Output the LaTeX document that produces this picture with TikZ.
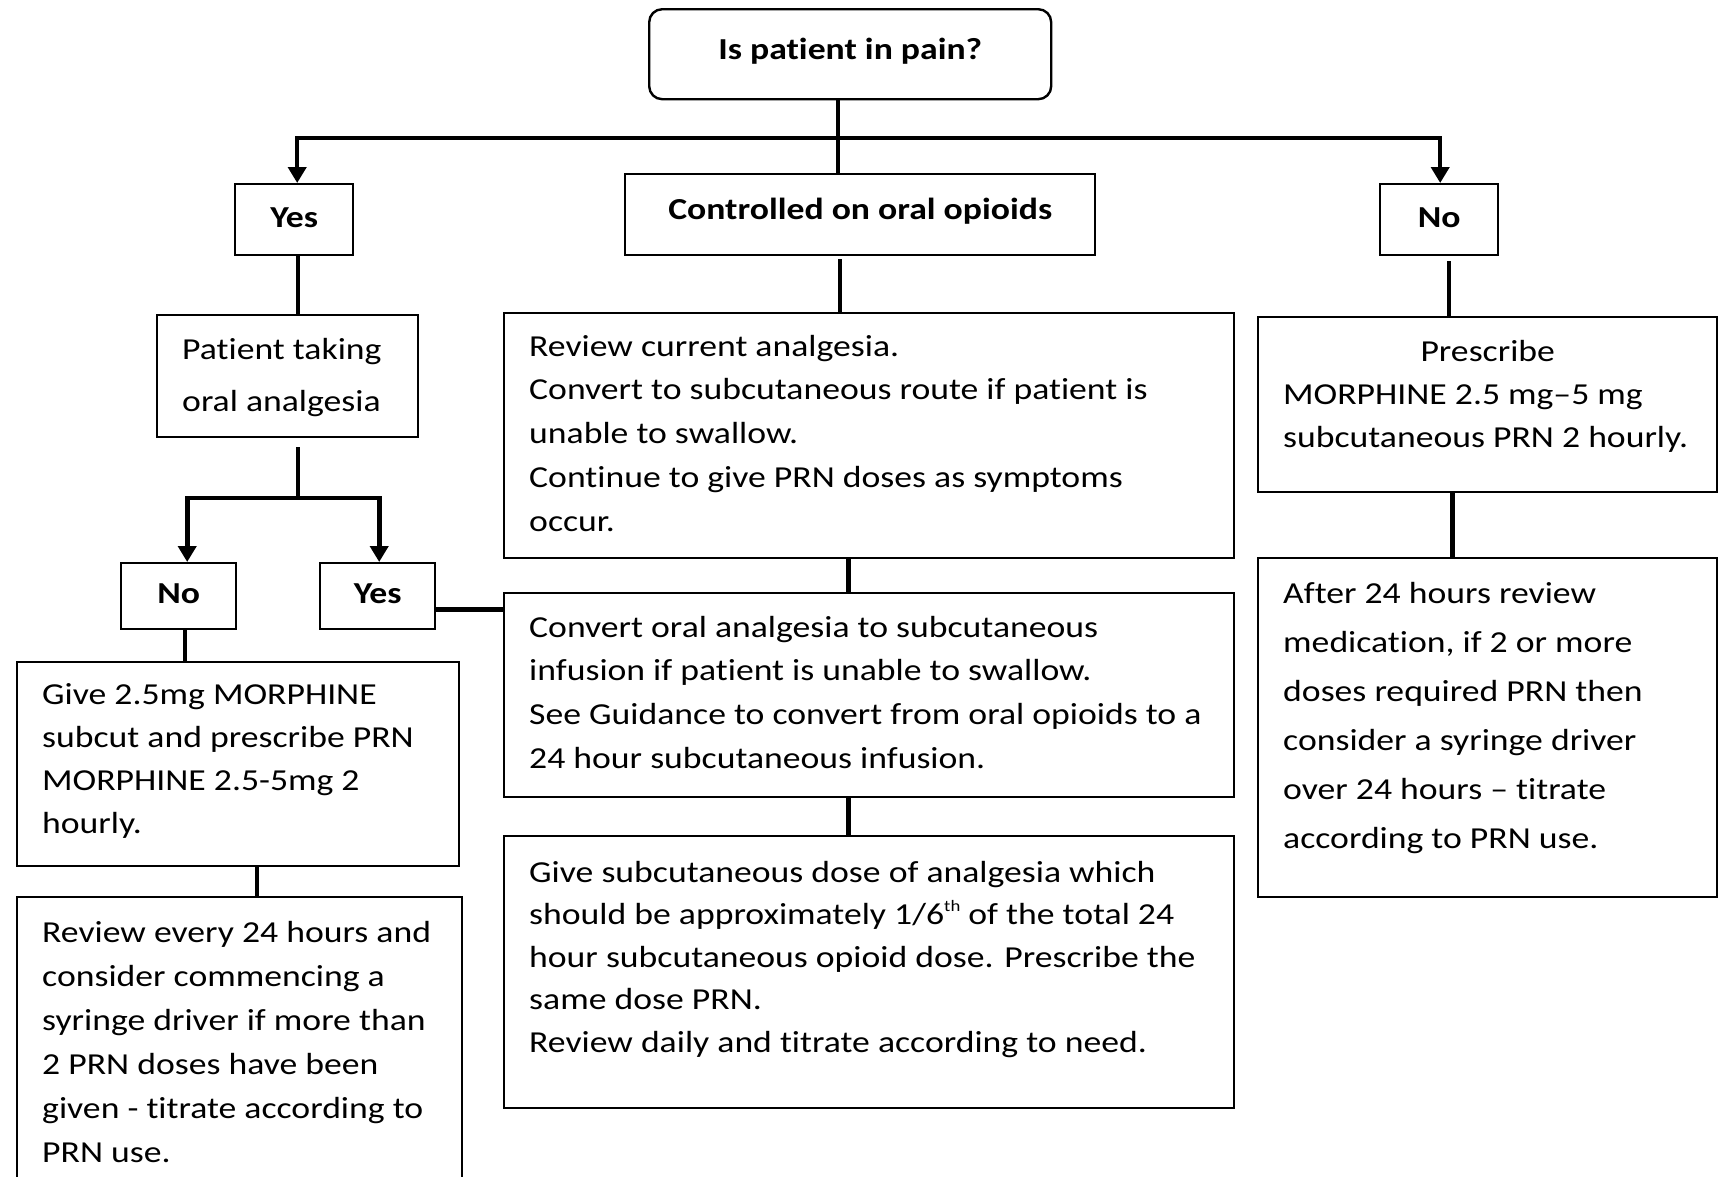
\documentclass[tikz,border=0pt]{standalone}
\usepackage{fontspec}
\setmainfont[FakeStretch=1.17, Ligatures=NoCommon]{Carlito}
\usetikzlibrary{arrows.meta}

% Box body: width, height, first baseline, line pitch, lines
\newcommand{\flowtext}[5]{%
  \parbox[c][#2][t]{#1}{\fontsize{30.5pt}{#4}\selectfont\raggedright
    \leftskip=25pt\relax\rule{0pt}{#3}#5}}
% small raised ordinal suffix
\newcommand{\ordsuffix}[1]{\raisebox{0.42em}{\fontsize{16pt}{16pt}\selectfont #1}}

\tikzset{
  box/.style={draw, line width=2.4pt, inner sep=0pt, anchor=north west},
  tag/.style 2 args={draw, line width=2.4pt, inner sep=0pt, anchor=north west,
    minimum width=#1, minimum height=#2, text height=21pt, text depth=6pt,
    font=\fontsize{30.5pt}{36pt}\selectfont\bfseries},
  link/.style={line width=4pt},
  flow/.style={link, -{Triangle[width=18pt,length=16pt]}},
}

\begin{document}
\begin{tikzpicture}[x=1pt,y=-1pt]
\useasboundingbox (0,0) rectangle (1718,1176);
\clip (0,0) rectangle (1718,1176);

% question and first level
\node[tag={402pt}{90pt}, rounded corners=13pt, text depth=11pt] (pain) at (648,8) {Is patient in pain?};
\node[tag={470pt}{81pt}, text depth=11pt] (ctrl) at (624,173) {Controlled on oral opioids};
\node[tag={118pt}{71pt}] (yesA) at (234,183) {Yes};
\node[tag={118pt}{71pt}] (noA) at (1379,183) {No};

% left branch
\node[box] (taking) at (156,314)
  {\flowtext{261pt}{122pt}{44pt}{52pt}{Patient taking\\oral analgesia}};
\node[tag={115pt}{66pt}] (noB) at (120,562) {No};
\node[tag={115pt}{66pt}] (yesB) at (319,562) {Yes};
\node[box] (give) at (16,661)
  {\flowtext{442pt}{204pt}{42pt}{43pt}{Give 2.5mg MORPHINE\\subcut and prescribe PRN\\MORPHINE 2.5-5mg 2\\hourly.}};
\node[box] (every) at (16,896)
  {\flowtext{445pt}{320pt}{45pt}{44pt}{Review every 24 hours and\\consider commencing a\\syringe driver if more than\\2 PRN doses have been\\given - titrate according to\\PRN use.}};

% middle branch
\node[box] (current) at (503,312)
  {\flowtext{730pt}{245pt}{43pt}{43.7pt}{Review current analgesia.\\Convert to subcutaneous route if patient is\\unable to swallow.\\Continue to give PRN doses as symptoms\\occur.}};
\node[box] (convert) at (503,592)
  {\flowtext{730pt}{204pt}{44pt}{43.7pt}{Convert oral analgesia to subcutaneous\\infusion if patient is unable to swallow.\\See Guidance to convert from oral opioids to a\\24 hour subcutaneous infusion.}};
\node[box] (subdose) at (503,835)
  {\flowtext{730pt}{272pt}{46pt}{42.5pt}{Give subcutaneous dose of analgesia which\\should be approximately 1/6\ordsuffix{th} of the total 24\\hour subcutaneous opioid dose. Prescribe the\\same dose PRN.\\Review daily and titrate according to need.}};

% right branch
\node[box] (prescribe) at (1257,316)
  {\flowtext{459pt}{175pt}{44pt}{43pt}{\hspace*{-25pt}\makebox[459pt]{Prescribe}\\MORPHINE 2.5 mg–5 mg\\subcutaneous PRN 2 hourly.}};
\node[box] (after) at (1257,557)
  {\flowtext{459pt}{339pt}{45pt}{49pt}{After 24 hours review\\medication, if 2 or more\\doses required PRN then\\consider a syringe driver\\over 24 hours – titrate\\according to PRN use.}};

% connectors from the question
\coordinate (split) at ([xshift=-12pt]pain.south |- 0,138);
\draw[link] ([xshift=-12pt]pain.south) -- ([xshift=-12pt]pain.south |- ctrl.north);
\draw[flow] (split) -| ([xshift=3pt]yesA.north);
\draw[flow] (split) -| ([xshift=1pt]noA.north);

% left branch connectors
\draw[link] ([xshift=4pt]yesA.south) -- ([xshift=4pt]yesA.south |- taking.north);
\coordinate (fork) at ([xshift=10.5pt]taking.south |- 0,498);
\draw[link] ([xshift=10.5pt,yshift=-9pt]taking.south) -- (fork);
\draw[flow, line width=4.7pt] (fork) -| ([xshift=8.5pt]noB.north);
\draw[flow, line width=4.7pt] (fork) -| ([xshift=1.5pt]yesB.north);
\draw[link] ([xshift=6.5pt]noB.south) -- ([xshift=6.5pt]noB.south |- give.north);
\draw[link, line width=4.7pt] ([yshift=-13pt]yesB.east) -- ([yshift=-13pt]yesB.east -| convert.west);
\draw[link] ([xshift=19pt]give.south) -- ([xshift=19pt]give.south |- every.north);

% middle branch connectors
\draw[link] ([xshift=-20pt,yshift=-3pt]ctrl.south) -- ([xshift=-20pt]ctrl.south |- current.north);
\draw[link, line width=4.7pt] ([xshift=-21pt]current.south) -- ([xshift=-21pt]current.south |- convert.north);
\draw[link, line width=4.7pt] ([xshift=-21pt]convert.south) -- ([xshift=-21pt]convert.south |- subdose.north);

% right branch connectors
\draw[link] ([xshift=10pt,yshift=-5pt]noA.south) -- ([xshift=10pt]noA.south |- prescribe.north);
\draw[link, line width=4.7pt] ([xshift=-35.5pt]prescribe.south) -- ([xshift=-35.5pt]prescribe.south |- after.north);
\end{tikzpicture}
\end{document}
